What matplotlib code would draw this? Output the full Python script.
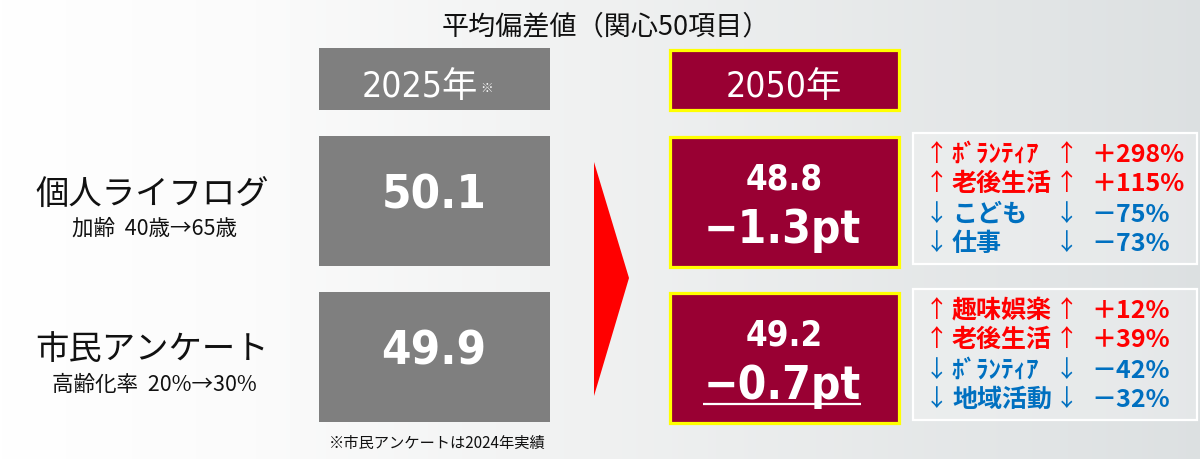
import numpy as np
import matplotlib
matplotlib.use("Agg")
import matplotlib.pyplot as plt
from matplotlib.patches import Rectangle, Polygon

# ---------------- data ----------------
title = "平均偏差値（関心50項目）"
year_before = "2025年"
year_after = "2050年"
categories = ["個人ライフログ", "市民アンケート"]
subtitles = ["加齢  40歳→65歳", "高齢化率  20%→30%"]
values_2025 = [50.1, 49.9]
values_2050 = [48.8, 49.2]
diffs = [-1.3, -0.7]
panel1_items = ["ﾎﾞﾗﾝﾃｨｱ", "老後生活", "こども", "仕事"]
panel1_changes = [298, 115, -75, -73]
panel2_items = ["趣味娯楽", "老後生活", "ﾎﾞﾗﾝﾃｨｱ", "地域活動"]
panel2_changes = [12, 39, -42, -32]
footnote = "※市民アンケートは2024年実績"

# ---------------- style ----------------
CJK = "Noto Sans CJK JP"
NARROW = ["DejaVu Sans", CJK]
plt.rcParams["font.family"] = [CJK, "DejaVu Sans"]
GREY = "#7f7f7f"
WINE = "#990033"
YELLOW = "#ffff00"
RED = "#ff0000"
BLUE = "#0070c0"

fig = plt.figure(figsize=(12, 4.6), dpi=100)
ax = fig.add_axes([0, 0, 1, 1])
ax.set_xlim(0, 1200)
ax.set_ylim(460, 0)
ax.axis("off")

# background gradient
xs = np.linspace(0, 1200, 600)
stops_x = [0, 250, 600, 1200]
stops_c = np.array([[1, 1, 1], [0.985, 0.985, 0.985], [0.94, 0.945, 0.945], [0.865, 0.88, 0.885]])
grad = np.stack([np.interp(xs, stops_x, stops_c[:, i]) for i in range(3)], axis=-1)[None, :, :]
ax.imshow(grad, extent=[0, 1200, 460, 0], aspect="auto", zorder=0)

# title
ax.text(606, 27, title, ha="center", va="center", fontsize=19.5, color="#111111", zorder=5)

# header boxes
ax.add_patch(Rectangle((319, 49), 231, 62, facecolor=GREY, edgecolor="none", zorder=2))
ax.text(478, 97, year_before, ha="right", va="baseline", fontsize=25.5, fontstretch="condensed",
        family=NARROW, color="white", zorder=5)
ax.text(480, 92, "※", ha="left", va="baseline", fontsize=9, color="white", zorder=5)

ax.add_patch(Rectangle((669.5, 50.5), 229, 60, facecolor=WINE, edgecolor=YELLOW,
                       linewidth=2.3, zorder=2))
ax.text(784, 97, year_after, ha="center", va="baseline", fontsize=25.5, fontstretch="condensed",
        family=NARROW, color="white", zorder=5)

# rows
row_tops = [137, 293]
row_h = 130
panel_items = [panel1_items, panel2_items]
panel_changes = [panel1_changes, panel2_changes]
underline = [False, True]

fig.canvas.draw()
renderer = fig.canvas.get_renderer()

for i, cat in enumerate(categories):
    top = row_tops[i]
    # left labels
    ax.text(152, top + 57, cat, ha="center", va="center", fontsize=24, color="#111111", zorder=5)
    ax.text(154, top + 92, subtitles[i], ha="center", va="center", fontsize=15.5,
            color="#111111", zorder=5)
    # 2025 box
    ax.add_patch(Rectangle((319, top), 231, row_h, facecolor=GREY, edgecolor="none", zorder=2))
    ax.text(434, top + 72, f"{values_2025[i]:.1f}", ha="center", va="baseline",
            fontsize=34, fontweight="bold", fontstretch="condensed", family=NARROW,
            color="white", zorder=5)
    # 2050 box
    ax.add_patch(Rectangle((669.5, top + 0.5), 229, row_h, facecolor=WINE, edgecolor=YELLOW,
                           linewidth=2.3, zorder=2))
    ax.text(784, top + 53, f"{values_2050[i]:.1f}", ha="center", va="baseline",
            fontsize=25, fontweight="bold", fontstretch="condensed", family=NARROW,
            color="white", zorder=5)
    t = ax.text(782, top + 106, f"{diffs[i]:.1f}pt".replace("-", "−"), ha="center",
                va="baseline", fontsize=33, fontweight="bold", fontstretch="condensed",
                family=NARROW, color="white", zorder=5)
    if underline[i]:
        bb = t.get_window_extent(renderer).transformed(ax.transData.inverted())
        ax.plot([bb.x0, bb.x1], [top + 112, top + 112], color="white", lw=1.6,
                solid_capstyle="butt", zorder=5)
    # change panel
    ax.add_patch(Rectangle((913, top - 3), 284, 131, facecolor=(1, 1, 1, 0.25),
                           edgecolor="white", linewidth=1.6, zorder=2))
    row_y = [top + 18, top + 47, top + 78, top + 107]
    for j, (item, ch) in enumerate(zip(panel_items[i], panel_changes[i])):
        col = RED if ch > 0 else BLUE
        arrow = "↑" if ch > 0 else "↓"
        sign = "＋" if ch > 0 else "－"
        y = row_y[j]
        ax.text(937, y, arrow, ha="center", va="center", fontsize=17, color=col, zorder=5)
        ax.text(952, y, item, ha="left", va="center", fontsize=18, fontweight="bold",
                color=col, zorder=5)
        ax.text(1067, y, arrow, ha="center", va="center", fontsize=17, color=col, zorder=5)
        ax.text(1091, y, f"{sign}{abs(ch)}%", ha="left", va="center", fontsize=18,
                fontweight="bold", color=col, zorder=5)

# red arrow
ax.add_patch(Polygon([(594, 163), (629, 279), (594, 397)], closed=True,
                     facecolor=RED, edgecolor="none", zorder=2))

# footnote
ax.text(437, 443, footnote, ha="center", va="center", fontsize=11, color="#111111", zorder=5)

fig.savefig("out.png", dpi=100)
